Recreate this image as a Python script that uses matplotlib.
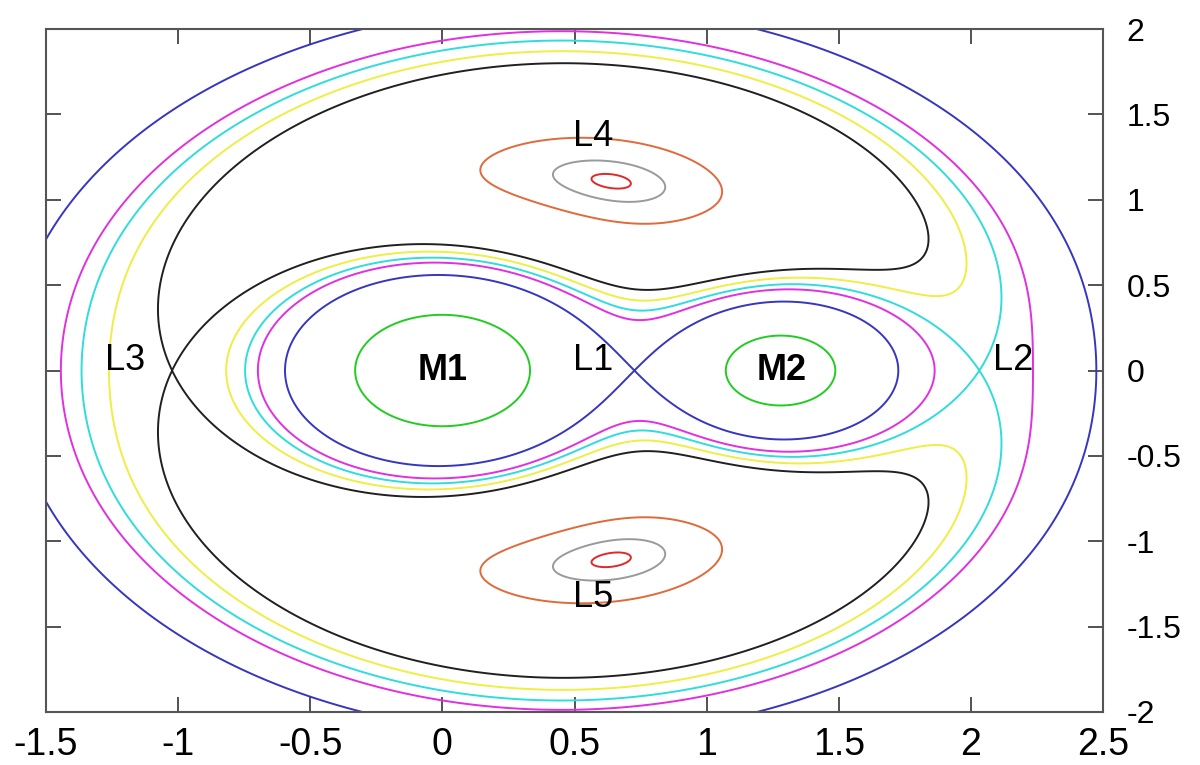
import numpy as np
import matplotlib
matplotlib.use("Agg")
import matplotlib.pyplot as plt

# restricted three-body problem, M1 at origin, M2 at x = sep
mu = 0.34          # mass fraction of M2
sep = 1.28         # M1-M2 distance in plot units

# contour levels, given by points the curve passes through
green_pt = (-0.33, 0.0)
magenta_pt = (-0.698, 0.0)
yellow_pt = (-0.818, 0.0)
orange_pt = (0.64, 0.875)
gray_pt = (0.64, 0.995)
red_pt = (0.64, 1.068)

labels = ["M1", "M2", "L1", "L2", "L3", "L4", "L5"]
label_x = [0.0, 1.285, 0.57, 2.16, -1.20, 0.57, 0.57]
label_y = [0.0, 0.0, 0.06, 0.06, 0.06, 1.37, -1.33]
label_bold = [True, True, False, False, False, False, False]


def phi(x, y):
    r1 = np.hypot(x, y) / sep
    r2 = np.hypot(x - sep, y) / sep
    xb = x / sep - mu
    return -(1 - mu) / r1 - mu / r2 - 0.5 * (xb ** 2 + (y / sep) ** 2)


def saddle(a, b):
    xs = np.linspace(a, b, 400001)
    v = phi(xs, 0.0)
    return v.max()


c_l1 = saddle(0.02, sep - 0.02)
c_l3 = saddle(-1.5, -0.02)
c_l2 = saddle(sep + 0.02, 2.5)

levels = [
    (phi(*green_pt), "#22cc22"),
    (c_l1, "#3636c0"),
    (phi(*magenta_pt), "#e030e0"),
    (c_l2, "#30dcdc"),
    (phi(*yellow_pt), "#eeee44"),
    (c_l3, "#202020"),
    (phi(*orange_pt), "#e06a3a"),
    (phi(*gray_pt), "#9a9a9a"),
    (phi(*red_pt), "#e02828"),
]
levels.sort(key=lambda t: t[0])

gx = np.linspace(-1.5, 2.5, 1400)
gy = np.linspace(-2.0, 2.0, 1400)
X, Y = np.meshgrid(gx, gy)
with np.errstate(divide="ignore", invalid="ignore"):
    Z = phi(X, Y)
Z = np.clip(Z, -20, None)

plt.rcParams["font.family"] = ["Liberation Sans", "DejaVu Sans"]
fig = plt.figure(figsize=(12, 7.65), dpi=100)
ax = fig.add_axes([0.0383, 0.0693, 0.8809, 0.8927])

ax.contour(X, Y, Z, levels=[l for l, c in levels], colors=[c for l, c in levels],
           linewidths=1.4)

for t, x, y, b in zip(labels, label_x, label_y, label_bold):
    ax.text(x, y, t, ha="center", va="center", fontsize=26,
            fontweight="bold" if b else "normal", color="black")

ax.set_xlim(-1.5, 2.5)
ax.set_ylim(-2, 2)
ax.set_xticks(np.arange(-1.5, 2.51, 0.5))
ax.set_yticks(np.arange(-2, 2.01, 0.5))
ax.set_xticklabels(["-1.5", "-1", "-0.5", "0", "0.5", "1", "1.5", "2", "2.5"])
ax.set_yticklabels(["-2", "-1.5", "-1", "-0.5", "0", "0.5", "1", "1.5", "2"])
ax.yaxis.tick_right()
ax.tick_params(axis="both", direction="in", length=11, width=1.3, color="#444444",
               top=True, bottom=True, left=True, right=True)
ax.tick_params(axis="x", pad=11, labelsize=27)
ax.tick_params(axis="y", pad=17, labelsize=23, labelleft=False, labelright=True)
for s in ax.spines.values():
    s.set_color("#555555")
    s.set_linewidth(1.5)

fig.savefig("out.png", dpi=100)
